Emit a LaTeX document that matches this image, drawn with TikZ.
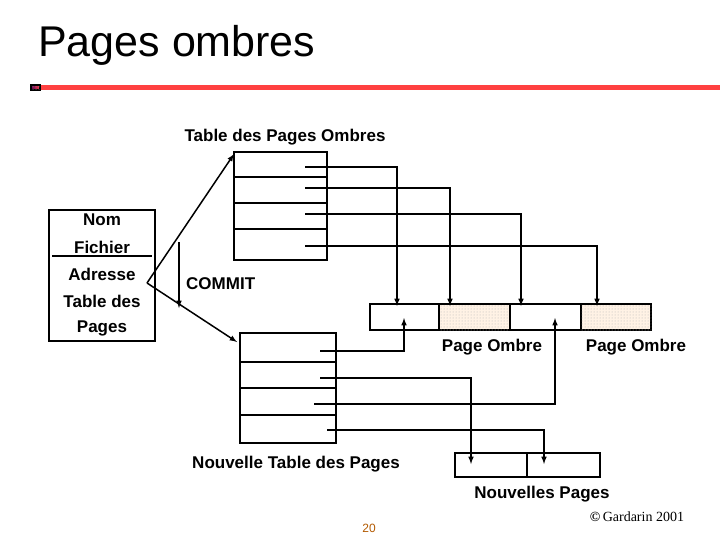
\documentclass[tikz,border=0pt]{standalone}
\usepackage{fontspec}
\setmainfont{Liberation Sans}
\newfontfamily\serifed{Liberation Serif}
\usetikzlibrary{patterns}
\begin{document}
\begin{tikzpicture}[x=1pt,y=-1pt,
  box/.style={draw,line width=1.6pt},
  ln/.style={line width=1.6pt},
  arr/.style={line width=1.5pt,-latex},
  lbl/.style={font=\bfseries\fontsize{17}{19}\selectfont,inner sep=0pt},
  shade/.style={box,fill=orange!10,postaction={pattern=dots,pattern color=gray!60}}]
\useasboundingbox (0,0) rectangle (720,540);
\node[anchor=west,inner sep=0pt,font=\fontsize{43}{46}\selectfont] (title) at (38,45) {Pages ombres};
\fill[red!75!white] (31,85) rectangle (720,90);
\shade[left color=violet!70!black,right color=red!75!white] (31,85) rectangle (40,90);
% left box
\draw[box] (49,210) rectangle (155,341);
\draw[ln] (52,256) -- (152,256);
\node[lbl] (nom) at (102,220) {Nom};
\node[lbl] (fic) at (102,247) {Fichier};
\node[lbl] (adr) at (102,274) {Adresse};
\node[lbl] (tdp) at (102,301) {Table des};
\node[lbl] (pag) at (102,328) {Pages};
\coordinate (src) at (147,283);
% top table
\node[lbl] (ttop) at (285,137) {Table des Pages Ombres};
\draw[box] (234,152) rectangle (327,260);
\foreach \y in {177,203,229} \draw[ln] (234,\y) -- (327,\y);
\coordinate (tt) at (234,154);
% bottom table
\draw[box] (240,333) rectangle (336,443);
\foreach \y in {362,388,415} \draw[ln] (240,\y) -- (336,\y);
\coordinate (bt) at (237,342);
\node[lbl] (tbot) at (296,464) {Nouvelle Table des Pages};
% arrows from left
\draw[arr] (src) -- (tt);
\draw[arr] (src) -- (bt);
\coordinate (c1) at (179,242); \coordinate (c2) at (179,308);
\draw[arr] (c1) -- (c2);
\node[lbl,anchor=west] (commit) at (186,284) {COMMIT};
% page bar
\draw[box] (370,304) rectangle (439,330);
\draw[shade] (439,304) rectangle (510,330);
\draw[box] (510,304) rectangle (581,330);
\draw[shade] (581,304) rectangle (651,330);
\node[lbl] (po1) at (492,347) {Page Ombre};
\node[lbl] (po2) at (636,347) {Page Ombre};
% top pointers
\draw[arr] (305,167) -| (397,306);
\draw[arr] (305,188) -| (450,306);
\draw[arr] (305,214) -| (521,306);
\draw[arr] (305,246) -| (597,306);
% new pages
\draw[box] (455,453) rectangle (527,477);
\draw[box] (527,453) rectangle (600,477);
\node[lbl] (np) at (542,494) {Nouvelles Pages};
% bottom pointers
\draw[arr] (320,351) -| (404,318);
\draw[arr] (320,378) -| (471,464);
\draw[arr] (314,404) -| (555,318);
\draw[arr] (327,430) -| (544,464);
% footer
\node[inner sep=0pt,text=orange!70!black,font=\fontsize{12}{14}\selectfont] (num) at (369,528) {20};
\node[inner sep=0pt,font=\serifed\fontsize{14}{16}\selectfont] (copy) at (637,517) {\textbf{©}\,Gardarin 2001};
\end{tikzpicture}
\end{document}
